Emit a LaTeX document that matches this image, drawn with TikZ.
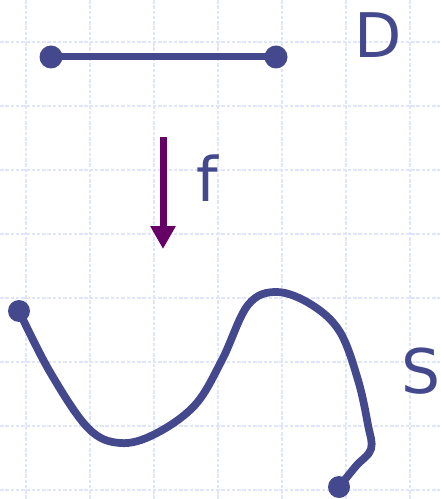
\documentclass[tikz,border=0pt]{standalone}
\usepackage{fontspec}
\setsansfont{DejaVu Sans}
\usetikzlibrary{arrows.meta}
\definecolor{ink}{RGB}{67,73,140}
\definecolor{plum}{RGB}{102,0,102}
\definecolor{gridblue}{RGB}{224,230,250}
\begin{document}
\begin{tikzpicture}[x=0.02cm, y=-0.02cm, >=stealth,
    lbl/.style={text=ink, font=\sffamily\fontsize{35}{42}\selectfont, inner sep=0pt},
    dot/.style={circle, fill=ink, inner sep=0pt, minimum size=0.46cm}]
    \useasboundingbox (0,0) rectangle (440,499);
    % Grid
    \foreach \x in {26,90,...,410}
        \draw[gridblue, dashed, line width=0.6pt, dash pattern=on 2pt off 1pt] (\x,0) -- (\x,499);
    \foreach \y in {42,106,...,490}
        \draw[gridblue, dashed, line width=0.6pt, dash pattern=on 2pt off 1pt] (0,\y) -- (440,\y);
    % Domain segment
    \coordinate (a) at (51,57);
    \coordinate (b) at (276,57);
    \draw[ink, line width=0.14cm] (a) -- (b);
    \node[dot] (adot) at (a) {};
    \node[dot] (bdot) at (b) {};
    \node[lbl] (dlab) at (378,35) {D};
    % Map
    \coordinate (top) at (163,137);
    \coordinate (tip) at (163,249);
    \draw[plum, line width=0.14cm, -{Triangle[length=0.46cm, width=0.48cm]}] (top) -- (tip);
    \node[lbl, anchor=base] (flab) at (207,202) {f};
    % Image curve
    \coordinate (c) at (19,311);
    \coordinate (d) at (339,487);
    \draw[ink, line width=0.155cm, line join=round] plot[smooth, tension=0.6] coordinates {
        (19,311) (50,372) (88,428) (120,443) (155,434) (195,405)
        (222,360) (248,305) (277,292) (312,305)
        (340,332) (358,380) (368,425) (371,449) (356,466) (339,487)};
    \node[dot, minimum size=0.44cm] (cdot) at (c) {};
    \node[dot, minimum size=0.44cm] (ddot) at (d) {};
    \node[lbl] (slab) at (421,371) {S};
\end{tikzpicture}
\end{document}
